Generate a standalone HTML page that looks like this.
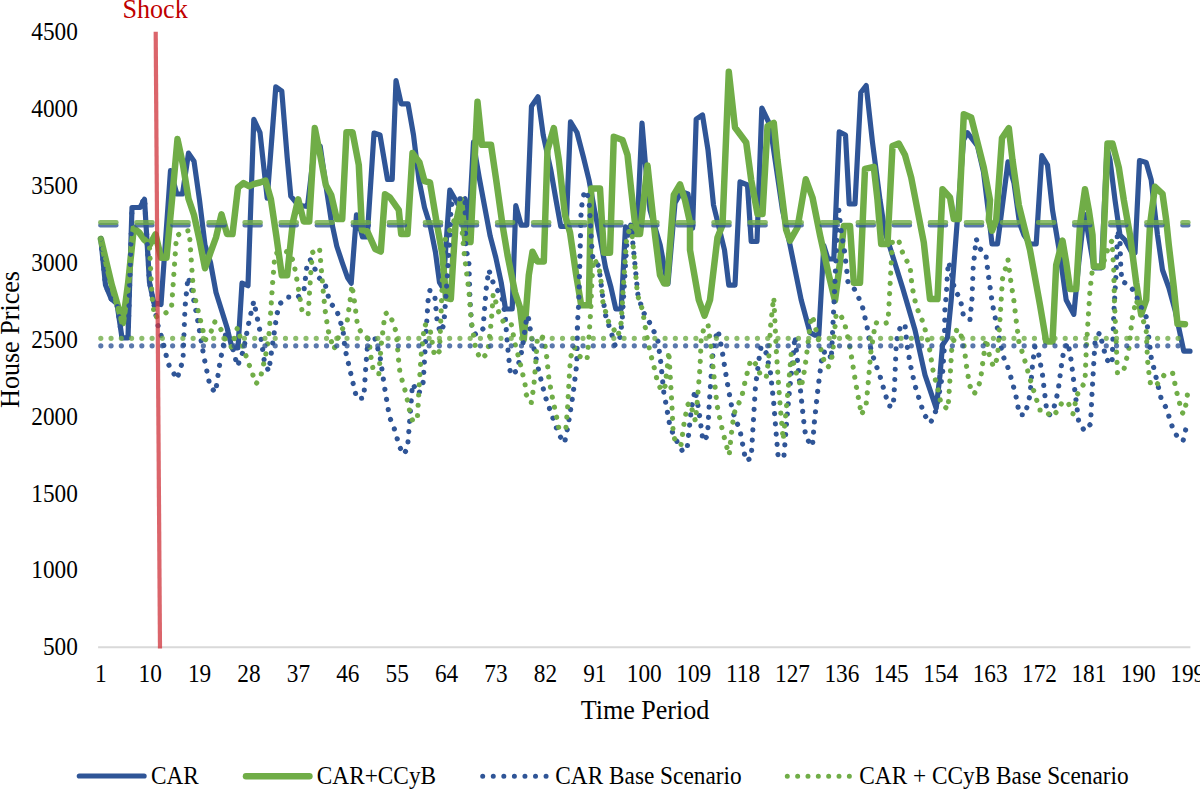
<!DOCTYPE html>
<html><head><meta charset="utf-8"><title>Chart</title>
<style>html,body{margin:0;padding:0;background:#fff}body{width:1200px;height:790px;overflow:hidden;font-family:"Liberation Serif",serif}svg{display:block}</style>
</head><body>
<svg width="1200" height="790" viewBox="0 0 1200 790">
<rect width="1200" height="790" fill="#fff"/>
<line x1="98.1" y1="647.3" x2="1190.4" y2="647.3" stroke="#d9d9d9" stroke-width="2"/>
<g fill="none" stroke-linejoin="round" stroke-linecap="round">
<path d="M100.8 238.8 L105.5 285.0 L111.2 298.8 L117.0 303.8 L122.0 337.8 L128.0 337.8 L132.0 207.5 L140.0 207.5 L144.5 199.3 L149.5 282.5 L153.8 302.8 L161.0 304.5 L170.5 170.6 L176.8 194.0 L182.5 194.0 L188.5 153.1 L194.0 161.2 L199.5 200.0 L205.0 245.0 L210.5 262.5 L216.0 292.5 L221.5 310.0 L227.0 327.5 L232.0 347.8 L238.0 347.8 L242.0 283.1 L248.0 285.7 L253.8 119.3 L260.0 132.5 L267.2 198.2 L275.8 86.8 L281.8 91.2 L287.2 157.5 L290.8 196.2 L298.2 205.2 L307.5 206.5 L314.8 144.3 L320.2 146.2 L325.8 185.0 L331.2 220.0 L336.8 246.2 L342.2 262.5 L347.5 277.5 L351.2 283.2 L356.5 214.8 L362.5 237.0 L367.2 237.0 L374.0 133.1 L380.0 135.0 L387.5 179.5 L392.2 179.5 L396.0 80.5 L401.2 103.8 L408.0 103.8 L413.5 135.0 L419.0 180.0 L424.5 207.5 L430.0 225.0 L435.5 252.5 L439.5 282.5 L443.0 288.2 L449.8 190.1 L458.0 204.2 L465.0 198.8 L468.6 231.7 L473.5 142.2 L476.2 160.0 L479.2 177.5 L484.8 207.5 L490.2 236.2 L495.8 257.5 L501.2 282.5 L505.5 309.0 L512.2 309.0 L515.8 205.6 L521.2 225.2 L526.8 225.2 L531.5 106.2 L538.0 96.8 L543.2 135.0 L550.8 170.0 L556.0 200.0 L560.8 226.5 L566.2 226.5 L570.5 121.8 L577.0 132.5 L583.5 157.5 L589.0 180.0 L594.5 210.0 L600.0 237.5 L605.5 267.5 L611.0 287.5 L615.8 309.0 L621.2 309.0 L625.5 226.8 L631.2 230.7 L637.5 220.0 L642.0 123.0 L645.5 165.0 L650.0 210.0 L655.0 227.5 L660.2 245.0 L665.8 275.0 L668.0 283.7 L675.0 203.0 L681.5 191.8 L688.0 194.0 L692.6 228.2 L696.2 119.2 L702.5 115.0 L708.0 150.0 L713.5 205.0 L719.0 227.5 L724.5 250.0 L728.8 285.2 L735.0 285.2 L740.0 181.8 L747.5 185.0 L751.2 241.5 L757.0 241.5 L761.8 108.0 L770.0 125.0 L782.5 210.0 L790.0 245.0 L801.2 300.0 L810.0 332.5 L815.0 335.2 L818.8 335.2 L823.8 245.6 L828.0 259.0 L833.8 259.0 L839.2 131.8 L845.5 135.0 L849.2 204.0 L855.0 204.0 L860.8 92.5 L866.2 85.5 L872.5 142.5 L880.0 200.0 L885.0 232.5 L890.0 247.5 L902.5 287.5 L915.0 330.0 L925.0 375.0 L936.2 408.2 L940.0 375.0 L942.5 345.0 L947.5 337.5 L951.2 300.0 L957.5 218.0 L963.5 140.0 L967.5 132.8 L977.5 146.0 L983.5 172.0 L988.5 213.0 L992.0 244.0 L997.5 244.0 L1008.0 161.8 L1014.0 183.0 L1019.5 223.0 L1024.0 235.0 L1030.0 244.0 L1036.2 244.0 L1041.8 155.6 L1047.5 165.0 L1052.5 210.0 L1060.0 255.0 L1066.2 300.0 L1073.8 314.4 L1078.8 262.5 L1084.2 214.3 L1087.5 230.0 L1094.0 267.8 L1101.5 267.8 L1107.0 148.1 L1110.0 160.0 L1115.0 200.0 L1120.0 235.0 L1125.0 240.0 L1131.2 251.5 L1135.0 252.8 L1139.5 160.6 L1146.2 162.5 L1151.2 180.0 L1157.5 235.0 L1162.5 270.0 L1168.8 287.5 L1175.0 310.0 L1183.8 351.2 L1190.0 351.2" stroke="#2f5597" stroke-width="5.2"/>
<path d="M100.8 238.8 L111.8 285.0 L122.8 323.2 L128.2 282.5 L133.8 228.1 L139.2 232.5 L144.5 240.0 L150.0 244.4 L155.5 234.3 L161.0 257.8 L166.5 257.8 L172.0 200.0 L177.5 139.1 L183.0 165.0 L188.5 198.8 L194.0 215.0 L199.5 240.0 L205.0 268.2 L210.5 252.5 L216.0 237.5 L221.5 214.3 L227.0 234.0 L232.5 234.0 L238.0 187.5 L243.5 183.1 L249.0 186.2 L254.5 183.8 L260.0 182.5 L265.5 180.6 L270.8 198.8 L276.2 235.0 L281.8 275.2 L287.2 275.2 L292.8 222.5 L298.2 199.3 L303.8 221.5 L309.2 221.5 L314.8 128.1 L320.2 155.0 L325.8 185.0 L331.2 195.0 L336.8 219.0 L342.2 219.0 L346.5 132.2 L352.5 132.2 L358.8 165.0 L362.0 230.0 L367.2 231.2 L375.2 249.0 L380.8 251.5 L385.0 194.3 L390.0 197.5 L398.8 210.0 L401.2 234.0 L407.5 234.0 L412.5 153.1 L419.5 162.5 L424.5 181.2 L430.0 182.5 L436.2 220.0 L442.5 255.0 L446.0 297.8 L450.8 299.0 L453.0 262.5 L455.5 225.0 L461.0 199.8 L465.5 242.0 L470.5 242.0 L477.5 101.8 L482.0 144.8 L491.0 144.8 L496.2 180.0 L502.5 225.0 L507.5 255.0 L515.0 292.5 L520.0 307.5 L523.8 339.4 L528.8 275.0 L532.5 251.8 L537.5 261.5 L543.8 261.5 L547.5 150.0 L553.8 128.1 L558.8 160.0 L565.0 215.0 L570.0 232.5 L576.2 275.0 L581.2 305.2 L588.8 305.2 L591.2 188.5 L600.0 188.5 L602.0 222.5 L604.0 252.8 L610.0 252.8 L613.8 136.8 L622.5 140.0 L627.5 155.0 L631.2 190.0 L636.2 234.0 L640.0 234.0 L647.5 165.6 L651.2 200.0 L655.0 235.0 L660.0 275.0 L664.2 283.5 L667.0 283.5 L673.8 195.0 L680.0 184.3 L685.0 200.0 L690.0 222.5 L690.0 250.0 L698.8 300.0 L704.5 315.7 L710.0 300.0 L717.5 237.5 L722.5 225.0 L728.8 71.8 L735.0 127.5 L746.2 142.5 L751.2 180.0 L757.5 214.0 L762.5 214.0 L767.5 126.2 L773.8 123.0 L777.5 160.0 L782.5 200.0 L786.2 230.0 L790.0 240.7 L797.5 227.5 L805.8 179.3 L812.5 197.5 L820.0 235.0 L828.8 275.0 L835.0 300.7 L840.0 262.5 L843.8 226.0 L850.0 226.0 L853.8 282.8 L860.0 282.8 L865.0 168.8 L873.8 166.8 L877.5 200.0 L881.2 244.0 L887.5 244.0 L892.5 146.0 L898.8 143.5 L905.0 155.0 L911.2 177.5 L917.5 210.0 L923.8 242.5 L930.0 299.0 L937.5 299.0 L942.5 189.3 L950.0 197.5 L953.8 219.0 L958.8 219.0 L963.8 114.3 L971.2 117.5 L977.5 142.5 L983.8 167.5 L990.0 200.0 L988.8 220.0 L992.0 230.7 L996.2 220.0 L1002.0 138.0 L1008.8 128.1 L1012.5 160.0 L1018.8 205.0 L1025.0 230.0 L1030.0 250.0 L1040.0 305.0 L1046.2 341.5 L1052.5 341.5 L1056.2 265.0 L1062.5 240.6 L1066.2 262.5 L1070.0 289.0 L1076.2 289.0 L1080.0 225.0 L1085.0 189.3 L1088.8 210.0 L1092.5 235.0 L1093.8 266.5 L1102.5 266.5 L1107.5 143.5 L1112.5 143.5 L1118.8 167.5 L1123.8 200.0 L1130.0 235.0 L1136.2 282.5 L1141.2 314.4 L1146.2 300.0 L1150.0 225.0 L1155.0 186.8 L1162.5 193.8 L1166.2 220.0 L1168.8 245.0 L1173.8 287.5 L1177.5 323.8 L1185.0 324.2" stroke="#70ad47" stroke-width="6.5"/>
<path d="M100.8 238.8 L105.5 285.0 L111.2 298.8 L117.0 303.8 L122.0 338.8 L128.0 338.8 L132.0 207.5 L140.0 207.5 L144.5 197.5 L149.5 282.5 L153.8 303.8 L157.5 323.8 L162.5 340.0 L168.2 363.8 L177.0 379.2 L183.0 360.0 L185.0 307.5 L188.0 277.0 L191.0 286.2 L197.0 316.2 L203.8 356.2 L210.0 386.2 L215.5 392.5 L220.0 362.0 L227.0 327.5 L237.5 366.2 L243.2 351.2 L249.2 320.8 L253.8 301.2 L260.0 331.2 L264.5 362.5 L268.8 371.2 L272.5 344.5 L277.0 313.8 L280.5 303.2 L287.5 297.0 L297.5 297.5 L303.8 292.0 L307.5 261.2 L310.5 260.0 L319.5 278.2 L325.0 283.8 L330.0 303.0 L336.2 308.8 L343.0 330.0 L345.0 348.8 L352.0 378.8 L356.8 398.8 L363.8 398.0 L365.8 367.0 L368.2 337.0 L374.5 337.0 L380.0 356.2 L384.5 387.0 L389.5 417.0 L393.8 427.0 L399.5 446.8 L403.8 454.5 L407.5 448.0 L410.0 417.0 L412.5 383.8 L418.8 393.8 L423.2 382.0 L426.2 331.2 L428.0 301.2 L430.0 290.0 L435.0 298.2 L437.0 319.5 L440.0 332.5 L443.8 325.0 L447.0 281.2 L449.5 241.2 L451.2 205.0 L455.5 200.0 L465.0 197.5 L465.8 250.0 L468.8 258.8 L470.0 300.0 L472.0 330.0 L476.2 335.0 L483.0 328.8 L486.2 288.8 L488.8 270.0 L495.0 288.0 L501.2 293.8 L505.0 313.8 L507.5 345.0 L510.5 375.0 L516.8 370.8 L522.0 350.0 L526.2 321.2 L528.0 315.5 L531.2 335.0 L537.5 365.5 L545.0 395.8 L551.8 415.0 L558.8 434.5 L564.5 443.0 L568.2 425.0 L573.0 394.5 L576.8 363.8 L577.5 323.0 L578.8 302.5 L581.2 208.8 L584.5 190.5 L588.8 197.5 L590.8 229.2 L592.0 249.5 L593.0 258.8 L598.8 266.2 L602.5 295.0 L605.5 315.0 L612.0 335.0 L615.0 345.0 L619.0 343.0 L622.0 323.0 L627.0 240.0 L631.0 224.0 L634.0 255.0 L638.0 295.5 L643.2 312.0 L649.8 323.0 L654.2 332.0 L658.0 341.5 L660.8 362.5 L663.8 392.5 L665.8 403.0 L669.5 423.8 L673.0 433.8 L677.5 442.5 L682.5 451.2 L687.0 450.0 L691.2 410.0 L695.0 390.0 L698.8 410.0 L703.0 441.2 L707.5 435.8 L709.2 405.0 L711.2 375.0 L713.8 343.8 L718.0 330.0 L722.0 350.0 L727.0 381.2 L732.5 411.2 L740.0 430.5 L745.8 460.8 L751.2 458.0 L753.0 427.5 L755.5 386.2 L759.5 355.5 L761.2 346.2 L766.2 353.0 L770.5 373.0 L773.8 403.8 L776.2 434.2 L778.0 455.0 L783.8 458.2 L786.2 427.5 L788.8 397.5 L792.5 362.5 L795.0 336.2 L798.0 366.2 L801.2 397.5 L804.5 428.2 L806.2 438.2 L812.5 446.2 L814.2 423.8 L817.5 392.5 L820.0 372.5 L822.5 352.5 L828.8 351.2 L831.2 360.0 L832.0 344.5 L834.5 293.0 L835.8 262.5 L837.5 225.0 L838.8 210.0 L841.2 231.2 L844.5 251.2 L847.0 272.5 L848.0 282.5 L853.8 288.0 L858.0 296.2 L862.5 307.0 L867.0 326.2 L870.5 347.5 L873.2 357.0 L880.0 376.2 L885.8 395.8 L888.8 405.8 L893.2 406.8 L894.5 386.2 L896.2 345.0 L897.5 335.0 L901.2 325.0 L905.0 324.5 L907.0 345.0 L910.5 365.5 L915.0 385.5 L921.2 405.5 L924.5 415.0 L930.5 423.0 L936.2 410.0 L942.5 375.0 L944.5 345.0 L945.0 305.0 L946.2 297.5 L947.5 272.5 L948.8 262.0 L955.0 291.2 L960.0 297.5 L963.8 317.5 L970.0 319.5 L972.0 298.8 L973.2 267.5 L976.2 238.8 L980.0 248.8 L985.8 253.8 L988.2 274.2 L992.5 304.5 L998.8 335.0 L1002.5 355.0 L1007.0 364.5 L1010.0 374.2 L1015.5 393.8 L1019.5 414.5 L1025.0 415.0 L1030.0 395.0 L1032.5 365.0 L1035.0 346.2 L1038.8 355.0 L1042.5 375.0 L1046.2 406.2 L1049.2 415.0 L1053.0 411.2 L1058.0 391.8 L1062.0 360.8 L1063.8 351.2 L1068.0 342.5 L1071.2 360.8 L1075.0 391.8 L1078.8 422.5 L1084.5 430.8 L1090.5 424.2 L1092.0 393.8 L1093.8 362.5 L1095.0 342.5 L1099.5 332.5 L1103.8 348.8 L1106.2 359.2 L1112.0 364.2 L1112.5 353.8 L1113.8 313.8 L1116.2 271.2 L1117.5 230.0 L1120.0 240.0 L1120.5 261.2 L1121.8 281.2 L1128.8 285.0 L1135.0 292.5 L1138.8 302.5 L1146.2 317.0 L1148.8 337.5 L1151.2 357.5 L1153.8 368.0 L1158.8 388.8 L1161.2 398.8 L1166.2 408.0 L1172.5 427.5 L1177.0 436.2 L1183.0 441.2 L1185.5 430.5 L1187.5 420.0" stroke="#2f5597" stroke-width="5.2" stroke-dasharray="0.01 10.25"/>
<path d="M100.8 238.8 L111.8 285.0 L122.8 325.0 L128.2 282.5 L133.8 226.2 L139.2 232.5 L144.5 240.0 L149.5 247.5 L152.0 296.2 L154.5 317.5 L165.8 313.0 L171.5 308.0 L176.5 236.0 L183.0 231.5 L189.2 230.6 L193.4 291.5 L205.3 340.0 L211.2 331.2 L214.2 321.8 L217.5 323.0 L222.5 332.5 L226.2 342.0 L232.0 347.5 L234.5 337.5 L237.5 327.5 L242.5 345.8 L249.2 365.0 L256.2 383.8 L260.8 376.2 L265.5 356.2 L268.8 336.2 L270.5 315.0 L272.5 284.5 L275.0 253.8 L283.8 250.8 L290.0 253.0 L293.8 263.0 L297.5 283.0 L302.5 313.8 L308.2 313.8 L309.5 293.0 L310.8 273.0 L312.5 252.5 L319.5 248.0 L321.2 268.2 L323.0 288.8 L325.0 309.2 L328.0 330.0 L333.8 349.5 L338.8 336.2 L342.5 328.8 L347.0 322.5 L350.0 301.2 L352.0 285.0 L355.0 305.5 L357.5 325.5 L362.5 335.0 L368.8 338.8 L371.2 358.8 L373.0 368.8 L378.8 374.5 L381.2 345.0 L385.0 313.8 L388.0 312.5 L393.0 322.0 L396.2 332.5 L398.8 362.5 L400.0 373.0 L405.8 393.0 L410.0 412.5 L413.0 422.0 L417.5 416.2 L419.2 385.5 L421.2 355.0 L424.5 324.5 L429.5 326.2 L434.5 356.2 L439.5 351.2 L441.2 310.0 L442.0 288.8 L443.2 250.0 L446.2 235.0 L450.0 230.0 L457.5 212.5 L461.2 220.0 L463.8 250.0 L466.2 270.0 L468.8 290.0 L471.2 320.5 L474.5 341.2 L476.2 351.2 L481.2 359.2 L487.5 353.2 L490.0 333.8 L492.0 313.0 L493.2 293.8 L496.2 303.2 L499.2 313.8 L503.8 322.5 L511.2 323.8 L515.0 343.8 L520.0 362.5 L525.0 383.8 L526.2 394.5 L531.2 403.2 L533.8 386.2 L535.5 366.2 L537.5 336.2 L543.8 337.5 L546.8 357.5 L548.8 378.0 L552.5 398.2 L556.8 418.0 L558.8 428.2 L565.8 429.5 L567.5 409.2 L569.2 378.2 L570.5 357.5 L574.2 347.0 L579.5 356.2 L587.0 360.0 L588.8 340.0 L590.8 309.5 L592.0 278.8 L593.8 258.8 L598.8 266.2 L601.2 282.5 L603.0 303.0 L608.8 322.5 L613.8 329.5 L618.0 336.2 L621.2 322.5 L623.0 292.5 L626.5 240.0 L631.0 224.0 L634.0 255.0 L637.5 295.0 L643.2 312.0 L644.0 321.0 L646.0 331.0 L647.8 341.5 L650.0 351.8 L655.5 372.5 L657.5 382.5 L662.0 391.2 L665.0 386.2 L667.5 365.5 L668.8 351.2 L670.0 372.5 L671.8 403.0 L673.2 434.2 L676.2 443.8 L681.2 444.5 L683.8 425.0 L687.5 405.0 L690.0 402.5 L695.5 421.2 L697.5 398.8 L700.0 367.5 L701.2 338.8 L704.5 326.2 L708.0 324.5 L710.5 343.2 L713.8 374.5 L717.0 405.0 L721.2 425.0 L726.2 445.0 L729.2 455.0 L731.2 435.0 L733.8 415.0 L736.2 407.0 L741.2 399.5 L745.5 379.5 L750.8 359.5 L756.2 364.5 L760.0 373.8 L766.2 378.0 L768.8 357.5 L770.5 327.0 L772.5 307.5 L773.8 297.5 L776.2 348.8 L778.2 379.5 L780.5 410.0 L783.2 440.0 L786.2 410.0 L789.2 377.5 L791.2 353.8 L796.2 372.5 L801.2 387.5 L805.0 367.5 L807.5 347.5 L811.2 316.2 L812.5 316.2 L818.8 341.2 L823.8 360.0 L827.5 367.5 L830.0 365.0 L832.5 354.5 L836.2 313.8 L840.0 313.8 L844.5 323.0 L849.2 343.0 L852.5 363.0 L855.8 383.8 L859.5 403.8 L861.5 415.0 L866.2 403.8 L868.2 383.2 L870.8 352.5 L875.5 322.5 L881.2 324.5 L888.0 322.5 L889.2 301.2 L890.8 271.2 L892.5 240.0 L898.8 240.8 L902.0 251.2 L906.2 260.0 L910.0 265.8 L912.0 286.2 L916.2 306.2 L923.8 324.2 L928.8 344.5 L933.8 375.0 L937.0 385.0 L941.2 404.5 L948.0 409.2 L950.0 378.8 L951.8 348.0 L957.0 328.8 L960.5 333.8 L963.8 343.8 L966.2 364.2 L969.5 385.0 L973.8 394.2 L977.5 389.2 L980.5 380.0 L983.2 359.2 L986.2 338.8 L986.2 338.8 L990.0 358.8 L993.8 367.0 L997.5 357.5 L999.5 327.5 L1001.2 300.0 L1002.5 278.8 L1008.0 259.5 L1010.5 279.5 L1013.8 300.0 L1016.2 320.5 L1018.8 341.2 L1021.8 350.8 L1025.0 361.2 L1030.5 380.5 L1036.8 400.5 L1040.0 410.0 L1045.0 410.0 L1051.2 416.8 L1058.2 410.5 L1062.5 401.2 L1068.8 404.2 L1073.0 413.8 L1077.0 395.0 L1081.2 388.0 L1085.0 382.0 L1086.2 351.2 L1088.0 321.2 L1090.0 290.0 L1092.5 268.8 L1102.5 266.2 L1107.5 250.0 L1112.0 240.5 L1113.8 271.2 L1114.5 302.5 L1116.2 342.5 L1117.5 373.8 L1123.8 370.0 L1128.8 349.5 L1132.0 319.5 L1136.2 300.0 L1141.2 313.8 L1146.2 330.0 L1147.5 360.0 L1149.2 375.5 L1150.8 385.8 L1157.5 383.8 L1164.2 375.0 L1172.5 372.5 L1176.8 392.5 L1182.0 412.5 L1183.8 413.8 L1186.2 403.2 L1187.5 393.8" stroke="#70ad47" stroke-width="5.2" stroke-dasharray="0.01 10.25"/>
<path d="M100.8 345.8 H1187.6" stroke="#2f5597" stroke-opacity="0.8" stroke-width="5.2" stroke-dasharray="0.01 10.25"/>
<path d="M100.8 338.3 H1187.6" stroke="#70ad47" stroke-opacity="0.8" stroke-width="5.2" stroke-dasharray="0.01 10.25"/>
<path d="M100.4 225.3 H1188.3" stroke="#2f5597" stroke-opacity="0.8" stroke-width="4.6" stroke-dasharray="15.9 20.17"/>
<path d="M100.4 222.5 H1188.3" stroke="#70ad47" stroke-opacity="0.8" stroke-width="4.8" stroke-dasharray="15.9 20.17"/>
</g>
<line x1="155.7" y1="31.7" x2="160" y2="648.5" stroke="#d0343c" stroke-opacity="0.76" stroke-width="4.2"/>
<g fill="#000">
<style>text{font-family:"Liberation Serif",serif}.t{font-size:23.3px}.a{font-size:26.1px}</style>
<text transform="translate(77.9,655.3) scale(1,1.06)" text-anchor="end" class="t">500</text><text transform="translate(77.9,578.4) scale(1,1.06)" text-anchor="end" class="t">1000</text><text transform="translate(77.9,501.5) scale(1,1.06)" text-anchor="end" class="t">1500</text><text transform="translate(77.9,424.7) scale(1,1.06)" text-anchor="end" class="t">2000</text><text transform="translate(77.9,347.8) scale(1,1.06)" text-anchor="end" class="t">2500</text><text transform="translate(77.9,270.9) scale(1,1.06)" text-anchor="end" class="t">3000</text><text transform="translate(77.9,194.0) scale(1,1.06)" text-anchor="end" class="t">3500</text><text transform="translate(77.9,117.2) scale(1,1.06)" text-anchor="end" class="t">4000</text><text transform="translate(77.9,40.3) scale(1,1.06)" text-anchor="end" class="t">4500</text><text transform="translate(100.8,682.0) scale(1,1.06)" text-anchor="middle" class="t">1</text><text transform="translate(150.2,682.0) scale(1,1.06)" text-anchor="middle" class="t">10</text><text transform="translate(199.6,682.0) scale(1,1.06)" text-anchor="middle" class="t">19</text><text transform="translate(249.0,682.0) scale(1,1.06)" text-anchor="middle" class="t">28</text><text transform="translate(298.4,682.0) scale(1,1.06)" text-anchor="middle" class="t">37</text><text transform="translate(347.8,682.0) scale(1,1.06)" text-anchor="middle" class="t">46</text><text transform="translate(397.2,682.0) scale(1,1.06)" text-anchor="middle" class="t">55</text><text transform="translate(446.6,682.0) scale(1,1.06)" text-anchor="middle" class="t">64</text><text transform="translate(496.0,682.0) scale(1,1.06)" text-anchor="middle" class="t">73</text><text transform="translate(545.4,682.0) scale(1,1.06)" text-anchor="middle" class="t">82</text><text transform="translate(594.8,682.0) scale(1,1.06)" text-anchor="middle" class="t">91</text><text transform="translate(644.3,682.0) scale(1,1.06)" text-anchor="middle" class="t">100</text><text transform="translate(693.7,682.0) scale(1,1.06)" text-anchor="middle" class="t">109</text><text transform="translate(743.1,682.0) scale(1,1.06)" text-anchor="middle" class="t">118</text><text transform="translate(792.5,682.0) scale(1,1.06)" text-anchor="middle" class="t">127</text><text transform="translate(841.9,682.0) scale(1,1.06)" text-anchor="middle" class="t">136</text><text transform="translate(891.3,682.0) scale(1,1.06)" text-anchor="middle" class="t">145</text><text transform="translate(940.7,682.0) scale(1,1.06)" text-anchor="middle" class="t">154</text><text transform="translate(990.1,682.0) scale(1,1.06)" text-anchor="middle" class="t">163</text><text transform="translate(1039.5,682.0) scale(1,1.06)" text-anchor="middle" class="t">172</text><text transform="translate(1088.9,682.0) scale(1,1.06)" text-anchor="middle" class="t">181</text><text transform="translate(1138.3,682.0) scale(1,1.06)" text-anchor="middle" class="t">190</text><text transform="translate(1187.7,682.0) scale(1,1.06)" text-anchor="middle" class="t">199</text><text transform="translate(645.0,718.9) scale(1,1.06)" text-anchor="middle" class="a">Time Period</text><text transform="translate(19.0,339.5) rotate(-90) scale(1,1.06)" text-anchor="middle" class="a">House Prices</text><text transform="translate(122.5,18.4) scale(1,1.06)" text-anchor="start" class="a" fill="#c00000">Shock</text><text transform="translate(151.0,783.8) scale(1,1.06)" text-anchor="start" class="t">CAR</text><text transform="translate(316.8,783.8) scale(1,1.06)" text-anchor="start" class="t">CAR+CCyB</text><text transform="translate(555.3,783.8) scale(1,1.06)" text-anchor="start" class="t">CAR Base Scenario</text><text transform="translate(859.3,783.8) scale(1,1.06)" text-anchor="start" class="t">CAR + CCyB Base Scenario</text>
</g>
<g fill="none" stroke-linecap="round">
<path d="M79.3 776 H144.1" stroke="#2f5597" stroke-width="5.2"/>
<path d="M246 776.3 H309.4" stroke="#70ad47" stroke-width="6.5"/>
<path d="M482.7 776.3 H547" stroke="#2f5597" stroke-width="5.0" stroke-dasharray="0.01 10.55"/>
<path d="M787.3 776.3 H851" stroke="#70ad47" stroke-width="5.0" stroke-dasharray="0.01 10.33"/>
</g>
</svg>
</body></html>
